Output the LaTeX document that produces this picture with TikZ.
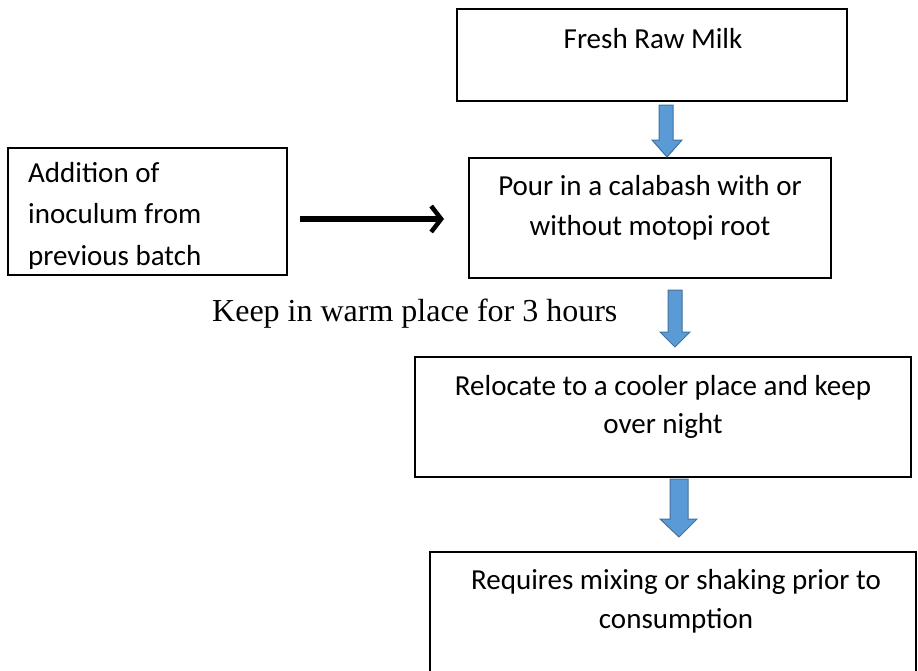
\documentclass[tikz,border=0pt]{standalone}
\usepackage{fontspec}
\setmainfont{Liberation Serif}
\newfontfamily\calib{Carlito}
\usetikzlibrary{arrows.meta}
\tikzset{
  box/.style={draw=black, line width=1.3pt},
  btext/.style={font=\calib\fontsize{29}{40}\selectfont, align=center, inner sep=0pt, anchor=base},
  blockarrow/.style={draw={rgb,255:red,65;green,113;blue,156}, fill={rgb,255:red,91;green,155;blue,213}, line width=1pt, line join=miter},
  flowarrow/.style={line width=5.5pt, -{Straight Barb[length=10pt, width=26pt, line width=4.5pt]}}
}
\begin{document}
\begin{tikzpicture}[x=1pt, y=-1pt]
\useasboundingbox (0,0) rectangle (918,670);
% boxes
\draw[box] (457,9) rectangle (847,101);
\node[btext] (milk) at (653,48) {Fresh Raw Milk};
\draw[box] (469,158) rectangle (831,278);
\node[btext] (pour) at (650,235) {Pour in a calabash with or\\without motopi root};
\begin{scope}
\clip (8,148) rectangle (287,268);
\node[btext, align=left, anchor=base west, font=\calib\fontsize{29}{41.5}\selectfont] (add) at (28,265) {Addition of\\inoculum from\\previous batch};
\end{scope}
\draw[box] (8,148) rectangle (287,275);
\draw[box] (415,357) rectangle (911,477);
\node[btext, font=\calib\fontsize{29}{38}\selectfont] (reloc) at (663,433) {Relocate to a cooler place and keep\\over night};
\draw[box] (430,552) rectangle (916,680);
\node[btext, font=\calib\fontsize{29}{39}\selectfont] (mix) at (676,628) {Requires mixing or shaking prior to\\consumption};
\node[font=\fontsize{32}{36}\selectfont, inner sep=0pt, anchor=base west] (keep) at (212,321) {Keep in warm place for 3 hours};
% black arrow
\coordinate (arrS) at (300,219);
\coordinate (arrE) at (444,219);
\draw[flowarrow] (arrS) -- (arrE);
% block arrows
\draw[blockarrow] (659,105) -- (673,105) -- (673,140) -- (682,140) -- (667,157) -- (652,140) -- (659,140) -- cycle;
\draw[blockarrow] (668,290) -- (682,290) -- (682,332) -- (690,332) -- (675,347) -- (660,332) -- (668,332) -- cycle;
\draw[blockarrow] (670,479) -- (688,479) -- (688,519) -- (697,519) -- (679,537) -- (660,519) -- (670,519) -- cycle;
\end{tikzpicture}
\end{document}
